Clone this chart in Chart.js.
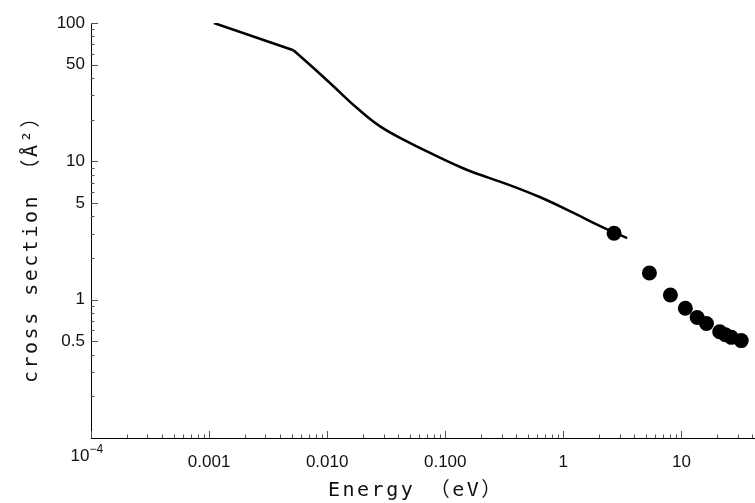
<!DOCTYPE html>
<html>
<head>
<meta charset="utf-8">
<script src="https://cdn.jsdelivr.net/npm/chart.js@4"></script>
<style>
  html, body { margin: 0; padding: 0; background: #fff; }
  #wrap { width: 755px; height: 503px; }
</style>
</head>
<body>
<div id="wrap"><canvas id="myChart"></canvas></div>
<script>
// calculated curve, kink at index 1
var curveE     = [0.00110, 0.00518, 0.00766, 0.0113, 0.0179, 0.0281, 0.0473, 0.0796, 0.134, 0.174, 0.333, 0.638, 1.22, 1.93, 2.67, 3.47];
var curveSigma = [100, 63.5, 47.3, 34.9, 24.3, 17.9, 13.95, 11.2, 9.1, 8.3, 6.85, 5.5, 4.24, 3.49, 3.07, 2.79];

// measured points
var pointE     = [2.69, 5.36, 8.07, 10.8, 13.6, 16.3, 21.1, 23.6, 26.5, 32.1];
var pointSigma = [3.02, 1.56, 1.08, 0.867, 0.743, 0.673, 0.586, 0.558, 0.534, 0.506];

// tick marks and their labels
var xTicks = [0.0001, 0.0002, 0.0003, 0.0004, 0.0005, 0.0006, 0.0007, 0.0008, 0.0009,
              0.001, 0.002, 0.003, 0.004, 0.005, 0.006, 0.007, 0.008, 0.009,
              0.01, 0.02, 0.03, 0.04, 0.05, 0.06, 0.07, 0.08, 0.09,
              0.1, 0.2, 0.3, 0.4, 0.5, 0.6, 0.7, 0.8, 0.9,
              1, 2, 3, 4, 5, 6, 7, 8, 9,
              10, 20, 30, 40];
var xLabelValues = [0.0001, 0.001, 0.01, 0.1, 1, 10];
var xLabelTexts  = ['', '0.001', '0.010', '0.100', '1', '10'];
var xMinLabel    = ['10', '\u22124'];   // 10^-4, drawn with a real superscript

var yTicks = [0.2, 0.3, 0.4, 0.5, 0.6, 0.7, 0.8, 0.9,
              1, 2, 3, 4, 5, 6, 7, 8, 9,
              10, 20, 30, 40, 50, 60, 70, 80, 90, 100];
var yLabelValues = [0.5, 1, 5, 10, 50, 100];
var yLabelTexts  = ['0.5', '1', '5', '10', '50', '100'];

var xTitle = 'Energy \uFF08eV\uFF09';
var yTitle = 'cross section \uFF08\u00C5\u00B2\uFF09';

const curveData = curveE.map((e, i) => ({ x: e, y: curveSigma[i] }));
const pointData = pointE.map((e, i) => ({ x: e, y: pointSigma[i] }));

function labelFor(values, texts) {
    return function (value) {
        const i = values.indexOf(value);
        return i >= 0 ? texts[i] : '';
    };
}

const tickFont = { family: '"Liberation Sans", Arial, sans-serif', size: 17 };

// inward tick marks + axis titles
const axisExtras = {
    id: 'axisExtras',
    afterDraw(chart) {
        const ctx = chart.ctx;
        const a = chart.chartArea;
        const x = chart.scales.x, y = chart.scales.y;
        ctx.save();
        ctx.strokeStyle = '#555';
        ctx.lineWidth = 1;
        ctx.beginPath();
        xTicks.forEach(v => {
            const px = Math.round(x.getPixelForValue(v)) + 0.5;
            const len = xLabelValues.includes(v) ? 7 : 3.5;
            ctx.moveTo(px, a.bottom);
            ctx.lineTo(px, a.bottom - len);
        });
        yTicks.forEach(v => {
            const py = Math.round(y.getPixelForValue(v)) + 0.5;
            const len = yLabelValues.includes(v) ? 7 : 3.5;
            ctx.moveTo(a.left, py);
            ctx.lineTo(a.left + len, py);
        });
        ctx.stroke();

        // 10^-4 label
        const px0 = x.getPixelForValue(xLabelValues[0]);
        ctx.fillStyle = '#111';
        ctx.textBaseline = 'alphabetic';
        ctx.textAlign = 'right';
        ctx.font = '17px "Liberation Sans", Arial, sans-serif';
        ctx.fillText(xMinLabel[0], px0 - 1.5, 461);
        ctx.textAlign = 'left';
        ctx.font = '12px "Liberation Sans", Arial, sans-serif';
        ctx.fillText(xMinLabel[1], px0 - 1.5, 452.5);

        ctx.font = '20px "DejaVu Sans Mono", "Noto Sans CJK JP", monospace';
        ctx.letterSpacing = '2.5px';
        ctx.fillText(xTitle, 328, 496);

        ctx.translate(37, 383);
        ctx.rotate(-Math.PI / 2);
        ctx.fillText(yTitle, 0, 0);
        ctx.restore();
    }
};

const config = {
    type: 'scatter',
    data: {
        datasets: [{
            label: 'curve low',
            data: curveData.slice(0, 2),
            showLine: true,
            borderColor: '#000',
            borderWidth: 2.5,
            pointRadius: 0,
            tension: 0
        }, {
            label: 'curve',
            data: curveData.slice(1),
            showLine: true,
            borderColor: '#000',
            borderWidth: 2.5,
            pointRadius: 0,
            tension: 0.4
        }, {
            label: 'points',
            data: pointData,
            backgroundColor: '#000',
            borderWidth: 0,
            pointRadius: 7.5
        }]
    },
    options: {
        responsive: true,
        maintainAspectRatio: false,
        animation: false,
        layout: { autoPadding: false, padding: { top: 23, right: 0, left: 0, bottom: 0 } },
        plugins: {
            legend: { display: false },
            tooltip: { enabled: false }
        },
        scales: {
            x: {
                type: 'logarithmic',
                min: 0.0001,
                max: 42,
                afterBuildTicks: s => { s.ticks = xTicks.map(v => ({ value: v })); },
                afterFit: s => { s.height = 65; s.paddingLeft = 0; s.paddingRight = 0; },
                grid: { display: false, drawTicks: false },
                border: { display: true, color: '#000', width: 1 },
                ticks: {
                    autoSkip: false,
                    maxRotation: 0,
                    padding: 14,
                    color: '#111',
                    font: tickFont,
                    callback: labelFor(xLabelValues, xLabelTexts)
                }
            },
            y: {
                type: 'logarithmic',
                min: 0.1,
                max: 100,
                afterBuildTicks: s => { s.ticks = yTicks.map(v => ({ value: v })); },
                afterFit: s => { s.width = 91; s.paddingTop = 0; s.paddingBottom = 0; },
                grid: { display: false, drawTicks: false },
                border: { display: true, color: '#000', width: 1 },
                ticks: {
                    autoSkip: false,
                    padding: 6,
                    color: '#111',
                    font: tickFont,
                    callback: labelFor(yLabelValues, yLabelTexts)
                }
            }
        }
    },
    plugins: [axisExtras]
};

const myChart = new Chart(document.getElementById('myChart'), config);
</script>
</body>
</html>
